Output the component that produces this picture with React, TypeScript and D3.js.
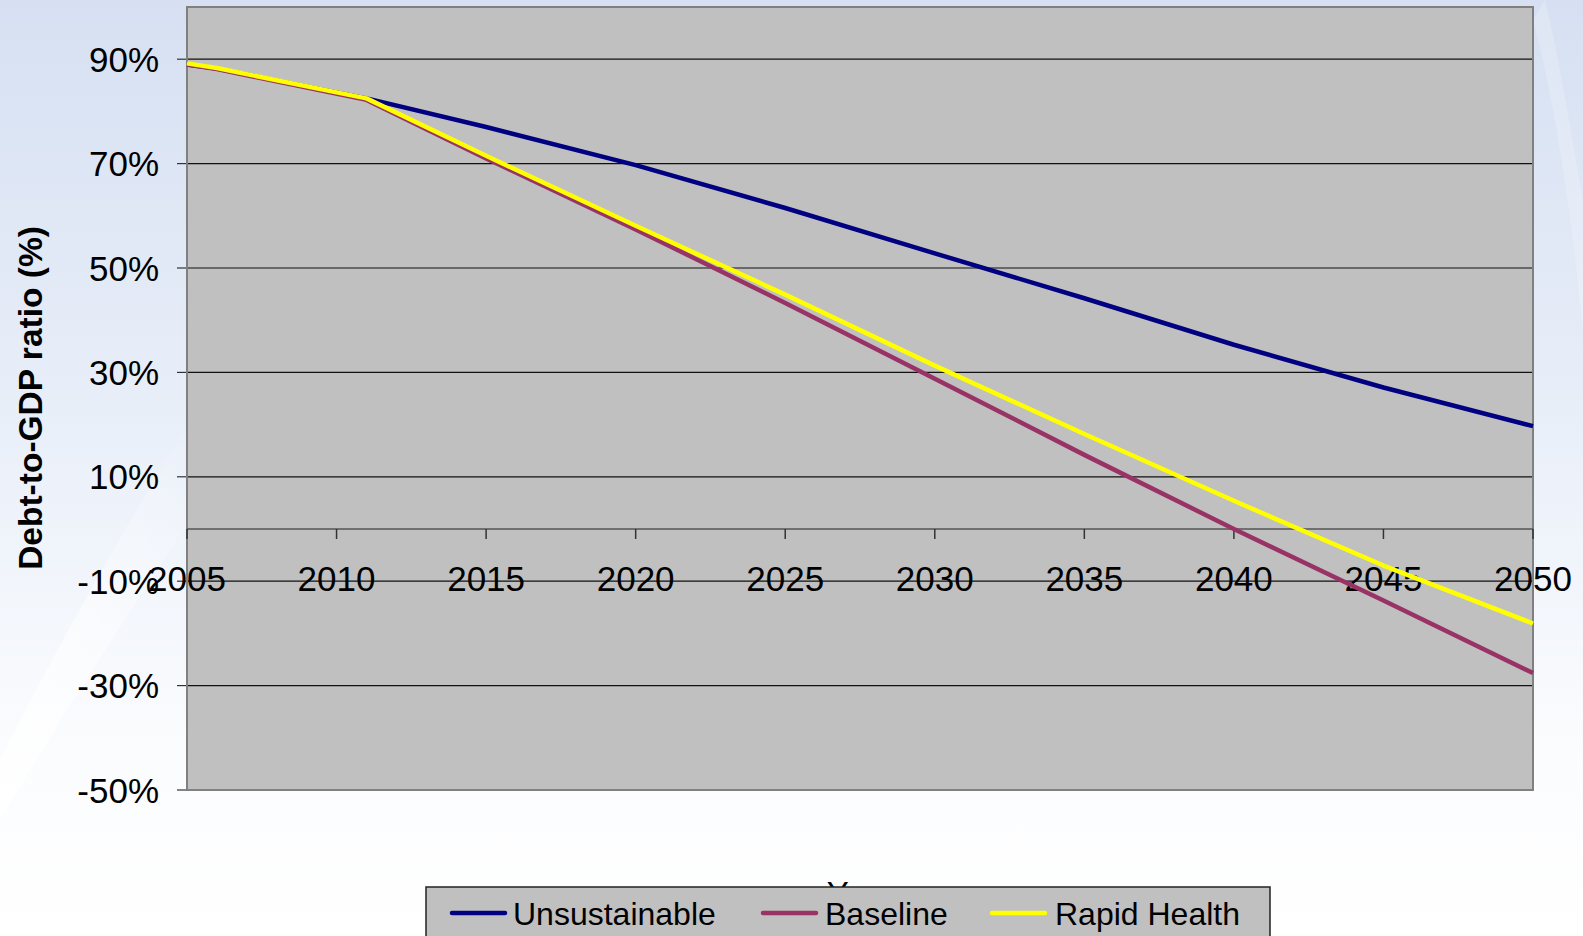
import React from "react";
import * as d3 from "d3";

const years = [2005, 2006, 2011, 2015, 2020, 2025, 2030, 2035, 2040, 2045, 2050];
const unsustainable = [89, 88.2, 82.5, 77, 69.7, 61.5, 52.8, 44.2, 35.3, 27.1, 19.7];
const baseline = [89, 88.1, 82.2, 71, 57.4, 43.3, 28.8, 14.2, 0, -13.7, -27.6];
const rapidHealth = [89.2, 88.3, 82.5, 71.5, 58.1, 44.9, 31.3, 18.2, 5.4, -7, -18.1];
const xTicks = [2005, 2010, 2015, 2020, 2025, 2030, 2035, 2040, 2045, 2050];
const yTicks = [-50, -30, -10, 10, 30, 50, 70, 90];

const series = [
  { name: "Unsustainable", values: unsustainable, color: "#000080" },
  { name: "Baseline", values: baseline, color: "#993366" },
  { name: "Rapid Health", values: rapidHealth, color: "#FFFF00" },
];

const W = 1583;
const H = 936;
const plot = { left: 187, right: 1533, top: 7, bottom: 790 };
const font = "Arial, 'Liberation Sans', sans-serif";

const App = () => {
  const x = d3.scaleLinear().domain([2005, 2050]).range([plot.left, plot.right]);
  const y = d3.scaleLinear().domain([-50, 100]).range([plot.bottom, plot.top]);
  const line = d3
    .line<number>()
    .x((_, i) => x(years[i]))
    .y((d) => y(d));

  const legendItems = [
    { lx: 452, tx: 513 },
    { lx: 763, tx: 825 },
    { lx: 992, tx: 1055 },
  ];

  return (
    <svg width={W} height={H} style={{ position: "absolute", left: 0, top: 0 }} fontFamily={font}>
      <defs>
        <linearGradient id="bg" x1="0" y1="0" x2="0" y2="1">
          <stop offset="0" stopColor="#d6e0f2" />
          <stop offset="0.45" stopColor="#e9eff9" />
          <stop offset="0.8" stopColor="#fbfcfe" />
          <stop offset="1" stopColor="#ffffff" />
        </linearGradient>
        <linearGradient id="swoosh" x1="0" y1="1" x2="1" y2="0">
          <stop offset="0" stopColor="#ffffff" stopOpacity="0.9" />
          <stop offset="1" stopColor="#ffffff" stopOpacity="0" />
        </linearGradient>
      </defs>
      <rect width={W} height={H} fill="url(#bg)" />
      <path d="M0,760 C60,640 130,520 190,420 L190,520 C130,610 60,720 0,820 Z" fill="url(#swoosh)" />
      <path d="M1533,20 C1560,120 1575,250 1583,330 L1583,200 C1570,130 1560,60 1545,0 Z" fill="#ffffff" opacity={0.2} />

      {/* plot area */}
      <rect x={plot.left} y={plot.top} width={plot.right - plot.left} height={plot.bottom - plot.top} fill="#C0C0C0" />
      {yTicks.map((t) => (
        <g key={t}>
          <line x1={plot.left} x2={plot.right} y1={y(t)} y2={y(t)} stroke="#111" strokeWidth={1.2} />
          <line x1={plot.left - 10} x2={plot.left} y1={y(t)} y2={y(t)} stroke="#333" strokeWidth={1.2} />
          <text x={159} y={y(t)} dy="0.36em" textAnchor="end" fontSize={35} fill="#000">
            {t}%
          </text>
        </g>
      ))}
      <rect
        x={plot.left}
        y={plot.top}
        width={plot.right - plot.left}
        height={plot.bottom - plot.top}
        fill="none"
        stroke="#808080"
        strokeWidth={2}
      />

      {/* x axis at zero */}
      <line x1={plot.left} x2={plot.right} y1={y(0)} y2={y(0)} stroke="#555" strokeWidth={1.5} />
      {xTicks.map((t) => (
        <g key={t}>
          <line x1={x(t)} x2={x(t)} y1={y(0)} y2={y(0) + 10} stroke="#333" strokeWidth={1.5} />
          <text x={x(t)} y={y(0) + 49} dy="0.36em" textAnchor="middle" fontSize={35} fill="#000">
            {t}
          </text>
        </g>
      ))}

      {series.map((s) => (
        <path key={s.name} d={line(s.values) ?? ""} fill="none" stroke={s.color} strokeWidth={4.5} strokeLinejoin="round" />
      ))}

      <text
        transform={`translate(42,398) rotate(-90)`}
        textAnchor="middle"
        fontSize={33.5}
        fontWeight="bold"
        fill="#000"
      >
        Debt-to-GDP ratio (%)
      </text>

      <text x={860} y={905} textAnchor="middle" fontSize={33} fill="#000">
        Year
      </text>

      {/* legend */}
      <rect x={426} y={887} width={844} height={60} fill="#C0C0C0" stroke="#222" strokeWidth={1.5} />
      {series.map((s, i) => (
        <g key={s.name}>
          <line
            x1={legendItems[i].lx}
            x2={legendItems[i].lx + 53}
            y1={913}
            y2={913}
            stroke={s.color}
            strokeWidth={4.5}
            strokeLinecap="round"
          />
          <text x={legendItems[i].tx} y={913} dy="0.36em" fontSize={32} fill="#000">
            {s.name}
          </text>
        </g>
      ))}
    </svg>
  );
};

export default App;
